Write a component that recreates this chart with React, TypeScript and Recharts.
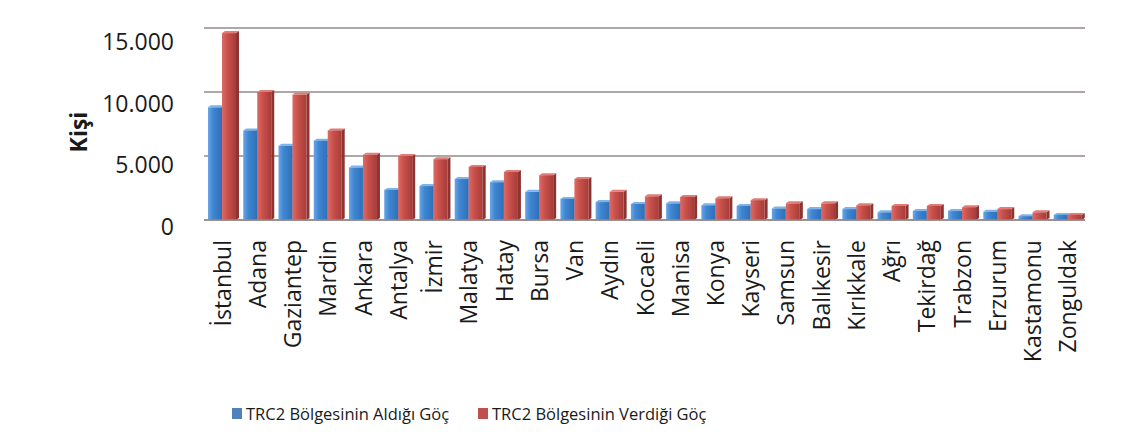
import React from 'react';
import { BarChart, Bar, XAxis, YAxis, CartesianGrid, Legend } from 'recharts';

const cities = [
  'İstanbul', 'Adana', 'Gaziantep', 'Mardin', 'Ankara', 'Antalya', 'İzmir', 'Malatya', 'Hatay', 'Bursa',
  'Van', 'Aydın', 'Kocaeli', 'Manisa', 'Konya', 'Kayseri', 'Samsun', 'Balıkesir', 'Kırıkkale', 'Ağrı',
  'Tekirdağ', 'Trabzon', 'Erzurum', 'Kastamonu', 'Zonguldak',
];
const received = [
  8800, 7000, 5800, 6200, 4100, 2350, 2650, 3200, 2950, 2200,
  1650, 1400, 1250, 1300, 1150, 1100, 900, 850, 850, 600,
  700, 700, 650, 300, 400,
];
const given = [
  14600, 10000, 9800, 7000, 5100, 5000, 4750, 4150, 3750, 3500,
  3200, 2200, 1850, 1800, 1700, 1550, 1300, 1300, 1150, 1100,
  1100, 1000, 850, 600, 400,
];
const yTicks = [0, 5000, 10000, 15000];
const seriesNames = ['TRC2 Bölgesinin Aldığı Göç', 'TRC2 Bölgesinin Verdiği Göç'];
const yTitle = 'Kişi';

const data = cities.map((c, i) => ({ city: c, aldigi: received[i], verdigi: given[i] }));

const FONT = "'Open Sans', sans-serif";
const fmt = (n: number) => String(n).replace(/\B(?=(\d{3})+(?!\d))/g, '.');

const BLUE = '#4f81bd';
const RED = '#c0504d';

function make3D(gradId: string, side: string, top: string) {
  return (p: any) => {
    const { x, y, width, height } = p;
    if (!height || height <= 0) return <g />;
    const dx = 3;
    const dy = -2;
    return (
      <g>
        <polygon
          points={`${x + width},${y} ${x + width + dx},${y + dy} ${x + width + dx},${y + height + dy} ${x + width},${y + height}`}
          fill={side}
        />
        <polygon
          points={`${x},${y} ${x + dx},${y + dy} ${x + width + dx},${y + dy} ${x + width},${y}`}
          fill={top}
        />
        <rect x={x} y={y} width={width} height={height} fill={`url(#${gradId})`} />
      </g>
    );
  };
}

const YTick = (p: any) => {
  const { x, y, payload } = p;
  const ty = 229 + (y - 220) * 0.9635;
  return (
    <text x={x - 22} y={ty} textAnchor="end" dominantBaseline="middle" fontFamily={FONT} fontSize={23} fill="#1a1a1a">
      {fmt(payload.value)}
    </text>
  );
};

const XTick = (p: any) => {
  const { x, y, payload } = p;
  const ty = y + 12;
  return (
    <text
      x={x}
      y={ty}
      transform={`rotate(-90 ${x} ${ty})`}
      textAnchor="end"
      dominantBaseline="central"
      fontFamily={FONT}
      fontSize={23}
      fill="#1a1a1a"
    >
      {payload.value}
    </text>
  );
};

const LegendContent = () => (
  <div style={{ position: 'relative', width: 1133, height: 70, fontFamily: FONT, fontSize: 16.5, color: '#1a1a1a' }}>
    {[BLUE, RED].map((c, i) => (
      <div key={i} style={{ position: 'absolute', left: i === 0 ? 232 : 478, top: 24, display: 'flex', alignItems: 'center', whiteSpace: 'nowrap' }}>
        <span style={{ display: 'inline-block', width: 10, height: 11, background: c, marginRight: 4 }} />
        <span>{seriesNames[i]}</span>
      </div>
    ))}
  </div>
);

export default function App() {
  return (
    <div style={{ position: 'absolute', left: 0, top: 0, width: 1133, height: 448, background: '#fff' }}>
      <BarChart
        width={1133}
        height={448}
        data={data}
        margin={{ top: 28, right: 48, left: 0, bottom: 0 }}
        barGap={0}
        barCategoryGap={4}
      >
        <defs>
          <linearGradient id="gBlue" x1="0" y1="0" x2="1" y2="0">
            <stop offset="0%" stopColor="#6aa6e6" />
            <stop offset="35%" stopColor="#3f86d2" />
            <stop offset="100%" stopColor="#2f6fb8" />
          </linearGradient>
          <linearGradient id="gRed" x1="0" y1="0" x2="1" y2="0">
            <stop offset="0%" stopColor="#dd6a64" />
            <stop offset="40%" stopColor="#c8504b" />
            <stop offset="100%" stopColor="#a63c39" />
          </linearGradient>
        </defs>
        <CartesianGrid vertical={false} stroke="#948a8a" strokeWidth={1.5} />
        <XAxis
          dataKey="city"
          interval={0}
          height={158}
          tickLine={false}
          axisLine={{ stroke: '#948a8a', strokeWidth: 1.5 }}
          tick={<XTick />}
        />
        <YAxis
          width={204}
          domain={[0, 15000]}
          ticks={yTicks}
          tickLine={false}
          axisLine={false}
          tick={<YTick />}
          label={{
            content: () => (
              <text
                x={78}
                y={132}
                transform="rotate(-90 78 132)"
                textAnchor="middle"
                dominantBaseline="central"
                fontFamily={FONT}
                fontSize={23}
                fontWeight="bold"
                fill="#1a1a1a"
              >
                {yTitle}
              </text>
            ),
          }}
        />
        <Legend verticalAlign="bottom" height={70} wrapperStyle={{ left: 0, width: 1133 }} content={<LegendContent />} />
        <Bar dataKey="aldigi" name={seriesNames[0]} fill={BLUE} isAnimationActive={false} shape={make3D('gBlue', '#2a5f9e', '#7fb3ea')} />
        <Bar dataKey="verdigi" name={seriesNames[1]} fill={RED} isAnimationActive={false} shape={make3D('gRed', '#8e3330', '#e07d77')} />
      </BarChart>
    </div>
  );
}
